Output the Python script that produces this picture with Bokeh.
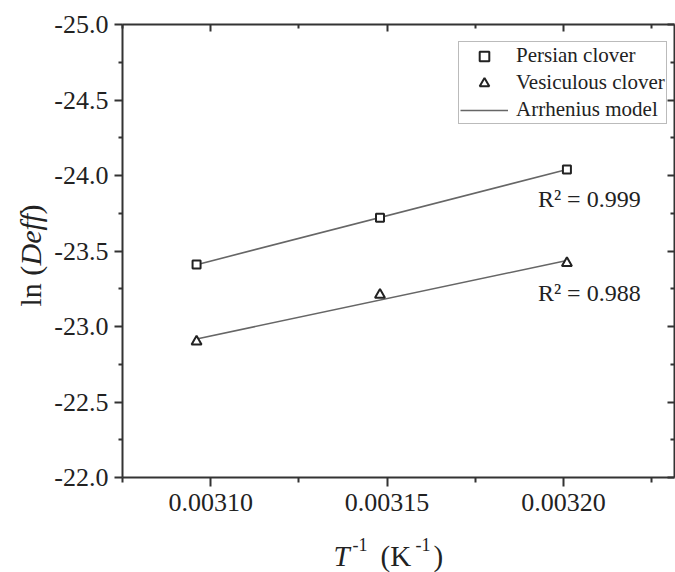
import numpy as np
from bokeh.plotting import figure
from bokeh.layouts import row, column
from bokeh.models import (Range1d, LinearAxis, FixedTicker, PrintfTickFormatter,
                          CustomJSTickFormatter, Legend, LegendItem, Label)
from bokeh.core.properties import value
from bokeh.embed import file_html
from bokeh.resources import INLINE

# ---- data ----
inv_T = [0.003096, 0.003148, 0.003201]          # T^-1 (K^-1)
persian = [-23.41, -23.72, -24.04]              # ln(Deff), Persian clover
vesiculous = [-22.90, -23.21, -23.42]           # ln(Deff), Vesiculous clover
r2_labels = ["R² = 0.999", "R² = 0.988"]
series_names = ["Persian clover", "Vesiculous clover", "Arrhenius model"]

x_ticks = [0.00310, 0.00315, 0.00320]
x_minor = [0.003075, 0.003125, 0.003175, 0.003225]
y_ticks = [-25.0, -24.5, -24.0, -23.5, -23.0, -22.5, -22.0]
y_minor = [-24.75, -24.25, -23.75, -23.25, -22.75, -22.25]

FONT = "Liberation Serif"
TXT = "#222222"
AX = "#333333"

p = figure(width=627, height=527, frame_width=552, frame_height=453,
           min_border_left=74, min_border_right=1, min_border_top=24, min_border_bottom=50,
           x_range=Range1d(0.003075, 0.0032315), y_range=Range1d(-22.0, -25.0),
           x_axis_location=None, y_axis_location=None, frame_align=False,
           output_backend="svg", toolbar_location=None)
p.outline_line_color = None
p.background_fill_color = "white"
p.border_fill_color = "white"
p.grid.visible = False


def style(ax):
    ax.axis_line_color = AX
    ax.axis_line_width = 2
    ax.major_tick_line_color = AX
    ax.minor_tick_line_color = AX
    ax.major_tick_line_width = 2
    ax.minor_tick_line_width = 2
    ax.major_label_text_font = FONT
    ax.major_label_text_font_size = "26px"
    ax.major_label_text_color = TXT


xt = FixedTicker(ticks=x_ticks, minor_ticks=x_minor)
yt = FixedTicker(ticks=y_ticks, minor_ticks=y_minor)

bottom = LinearAxis(ticker=xt, formatter=PrintfTickFormatter(format="%.5f"))
style(bottom)
bottom.major_tick_out, bottom.major_tick_in = 9, 0
bottom.minor_tick_out, bottom.minor_tick_in = 5, 0
bottom.major_label_standoff = 7
p.add_layout(bottom, "below")

left = LinearAxis(ticker=yt, formatter=PrintfTickFormatter(format="%.1f"))
style(left)
left.major_tick_out, left.major_tick_in = 8, 0
left.minor_tick_out, left.minor_tick_in = 4, 0
left.major_label_standoff = 6
p.add_layout(left, "left")

empty = CustomJSTickFormatter(code="return ''")
top = LinearAxis(ticker=xt, formatter=empty)
style(top)
top.major_tick_out, top.major_tick_in = 0, 7
top.minor_tick_out, top.minor_tick_in = 0, 4
top.major_label_standoff = 0
top.major_label_text_font_size = "1px"
p.add_layout(top, "above")

right = LinearAxis(ticker=yt, formatter=empty)
style(right)
right.major_tick_out, right.major_tick_in = 0, 7
right.minor_tick_out, right.minor_tick_in = 0, 4
right.major_label_standoff = 0
right.major_label_text_font_size = "1px"
p.add_layout(right, "right")

# ---- fitted Arrhenius lines ----
lines = []
for ys in (persian, vesiculous):
    k = np.polyfit(inv_T, ys, 1)
    xs = [min(inv_T), max(inv_T)]
    lines.append(p.line(xs, list(np.polyval(k, xs)), line_color="#666666", line_width=1.6))

sq = p.scatter(inv_T, persian, marker="square", size=8, line_color="#222222",
               line_width=2, fill_color="white")
tri = p.scatter(inv_T, vesiculous, marker="triangle", size=10, line_color="#222222",
                line_width=2, fill_color="white")

for ys, lab in zip((persian, vesiculous), r2_labels):
    p.text(x=[inv_T[-1]], y=[ys[-1]], text=[lab], x_offset=-29, y_offset=30,
           text_font=value(FONT), text_font_size="24px", text_color=TXT,
           text_align="left", text_baseline="alphabetic")

legend = Legend(items=[LegendItem(label=series_names[0], renderers=[sq]),
                       LegendItem(label=series_names[1], renderers=[tri]),
                       LegendItem(label=series_names[2], renderers=[lines[0]])],
                location=(336, 353))
legend.border_line_color = "#777777"
legend.border_line_width = 1.5
legend.background_fill_color = "white"
legend.label_text_font = FONT
legend.label_text_font_size = "21px"
legend.label_text_color = TXT
legend.padding = 1
legend.spacing = 2
legend.margin = 0
legend.label_height = 24
legend.glyph_height = 24
legend.glyph_width = 48
legend.label_standoff = 8
p.add_layout(legend, "center")


# ---- axis titles: small text-only panels (italic parts, superscripts) ----
def text_panel(w, h):
    f = figure(width=w, height=h, min_border=0, x_range=Range1d(0, 1), y_range=Range1d(0, 1),
               x_axis_location=None, y_axis_location=None, frame_align=False,
               output_backend="svg", toolbar_location=None)
    f.outline_line_color = None
    f.grid.visible = False
    f.background_fill_color = "white"
    f.border_fill_color = "white"
    return f


def lab(f, text, x, y, size, style="normal", angle=0.0):
    f.add_layout(Label(x=x, y=y, x_units="screen", y_units="screen", text=text,
                       text_font=FONT, text_font_size=size, text_font_style=style,
                       text_color=TXT, angle=angle, text_align="left",
                       text_baseline="alphabetic"))


xf = text_panel(627, 45)
lab(xf, "T", 285, 17, "29px", "italic")
lab(xf, "-1", 304, 28, "18px")
lab(xf, "(K", 332, 17, "29px")
lab(xf, "-1", 367, 28, "18px")
lab(xf, ")", 385, 17, "29px")

yf = text_panel(48, 572)
a = np.pi / 2
lab(yf, "ln (", 30, 266, "30px", angle=a)
lab(yf, "Deff", 30, 307, "30px", "italic", angle=a)
lab(yf, ")", 30, 358, "30px", angle=a)

layout = row(yf, column(p, xf))
open("out.html", "w").write(file_html(layout, INLINE))
